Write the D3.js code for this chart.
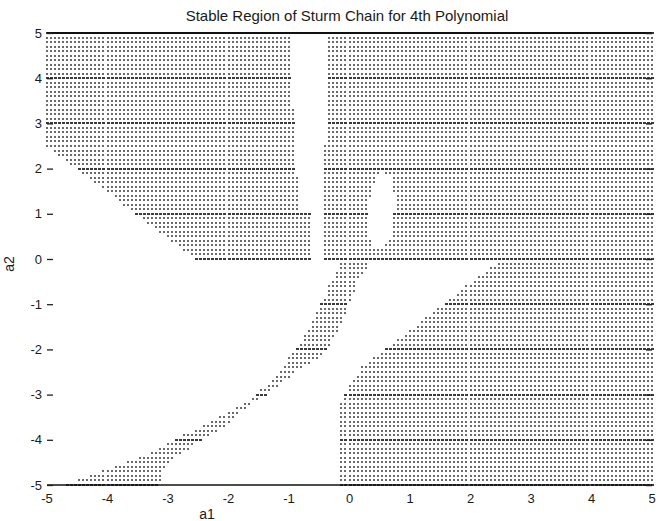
<!DOCTYPE html>
<html>
<head>
<meta charset="utf-8">
<script src="https://cdn.jsdelivr.net/npm/d3@7"></script>
<style>
  html, body { margin: 0; padding: 0; background: #fff; }
  svg { display: block; }
  text { font-family: "Liberation Sans", Arial, Helvetica, sans-serif; fill: #1a1a1a; }
</style>
</head>
<body>
<svg id="chart" width="666" height="521"></svg>
<script>
// ---- data ----
const titleText = "Stable Region of Sturm Chain for 4th Polynomial";
const xLabel = "a1";
const yLabel = "a2";
const xTicks = [-5, -4, -3, -2, -1, 0, 1, 2, 3, 4, 5];
const yTicks = [-5, -4, -3, -2, -1, 0, 1, 2, 3, 4, 5];

// sampling mesh of the (a1, a2) plane
const a1Values = d3.range(0, 151).map(i => -5 + i / 15);
const a2Values = d3.range(0, 101).map(j => -5 + j / 10);

// stable (dotted) regions, boundary vertices [a1, a2]
const upperRegion = [[-5.01, 5.01], [5.01, 5.01], [5.01, -0.01], [-2.55, -0.01], [-5.01, 2.5]];
const lowerRightRegion = [[-0.17, -5.01], [-0.17, -3.4], [-0.1, -3.0], [0.0, -2.72], [0.2, -2.4],
  [0.5, -2.1], [1.5, -1.05], [2.45, -0.05], [5.01, -0.05], [5.01, -5.01]];
const diagonalBand = [[-0.12, -0.03], [-0.3, -0.5], [-0.45, -0.95], [-0.62, -1.4], [-0.75, -1.7],
  [-0.92, -2.05], [-1.12, -2.4], [-1.35, -2.75], [-1.6, -3.05], [-1.9, -3.3], [-2.1, -3.45],
  [-2.35, -3.65], [-2.85, -3.95], [-3.3, -4.3], [-3.95, -4.62], [-4.75, -5.01],
  [-3.15, -5.01], [-3.05, -4.6], [-2.78, -4.3], [-2.38, -3.95], [-1.95, -3.62], [-1.8, -3.38],
  [-1.5, -3.1], [-1.1, -2.72], [-0.78, -2.4], [-0.5, -2.2], [-0.35, -2.0], [-0.2, -1.62],
  [-0.1, -1.4], [0.0, -0.95], [0.12, -0.5], [0.35, -0.03]];
const stableRegions = [upperRegion, lowerRightRegion, diagonalBand];

// unstable holes inside the upper region
const verticalStrip = [[-0.98, 5.1], [-0.98, 3.35], [-0.9, 3.35], [-0.9, 1.9], [-0.83, 1.9],
  [-0.83, 1.05], [-0.6, 1.05], [-0.6, -0.05], [-0.43, -0.05], [-0.37, 5.1]];
const ovalHole = [[0.55, 1.93], [0.68, 1.82], [0.74, 1.45], [0.73, 0.9], [0.67, 0.45], [0.55, 0.22],
  [0.4, 0.22], [0.31, 0.5], [0.3, 1.0], [0.34, 1.45], [0.44, 1.78]];
const holes = [verticalStrip, ovalHole];

// ---- drawing ----
const svg = d3.select("#chart");
const x = d3.scaleLinear().domain([-5, 5]).range([47, 652]);
const y = d3.scaleLinear().domain([-5, 5]).range([485, 33]);

const points = [];
a2Values.forEach((b, j) => {
  a1Values.forEach(a => {
    const p = [a, b];
    const stable = stableRegions.some(r => d3.polygonContains(r, p)) &&
                   !holes.some(h => d3.polygonContains(h, p));
    if (stable) points.push({ a, b, onInt: j % 10 === 0 });
  });
});

svg.append("g").attr("shape-rendering", "crispEdges")
  .selectAll("rect").data(points).join("rect")
  .attr("x", d => Math.round(x(d.a) - 1))
  .attr("y", d => Math.round(y(d.b) - 1))
  .attr("width", d => d.onInt ? 3 : 2)
  .attr("height", 2)
  .attr("fill", d => d.onInt ? "#3a3a3a" : "#6a6a6a");

// frame lines (top and bottom)
svg.append("line").attr("x1", x(-5)).attr("x2", x(5)).attr("y1", y(5)).attr("y2", y(5))
  .attr("stroke", "#111").attr("stroke-width", 2);
svg.append("line").attr("x1", x(-5)).attr("x2", x(5)).attr("y1", y(-5)).attr("y2", y(-5))
  .attr("stroke", "#111").attr("stroke-width", 1.6);

// y axes (ticks inward, no spine)
const yLeft = d3.axisRight(y).tickValues(yTicks).tickSize(6).tickFormat("");
const gL = svg.append("g").attr("transform", `translate(${x(-5)},0)`).call(yLeft);
gL.select(".domain").remove();
gL.selectAll("line").attr("stroke", "#222").attr("stroke-width", 1.3);

const yRight = d3.axisLeft(y).tickValues(yTicks).tickSize(6).tickFormat("");
const gR = svg.append("g").attr("transform", `translate(${x(5)},0)`).call(yRight);
gR.select(".domain").remove();
gR.selectAll("line").attr("stroke", "#222").attr("stroke-width", 1.5);

// y tick labels
svg.append("g").selectAll("text").data(yTicks).join("text")
  .attr("x", x(-5) - 5)
  .attr("y", d => y(d) + 4.5)
  .attr("text-anchor", "end")
  .attr("font-size", 13)
  .text(d => d < 0 ? "-" + Math.abs(d) : d);

// x tick labels
svg.append("g").selectAll("text").data(xTicks).join("text")
  .attr("x", d => x(d))
  .attr("y", 503)
  .attr("text-anchor", "middle")
  .attr("font-size", 13)
  .text(d => d < 0 ? "-" + Math.abs(d) : d);

// title and axis labels
svg.append("text").attr("x", 347).attr("y", 21).attr("text-anchor", "middle")
  .attr("font-size", 15).text(titleText);
svg.append("text").attr("x", 207).attr("y", 519).attr("text-anchor", "middle")
  .attr("font-size", 14).text(xLabel);
svg.append("text").attr("transform", "translate(14,264) rotate(-90)").attr("text-anchor", "middle")
  .attr("font-size", 14).text(yLabel);
</script>
</body>
</html>
